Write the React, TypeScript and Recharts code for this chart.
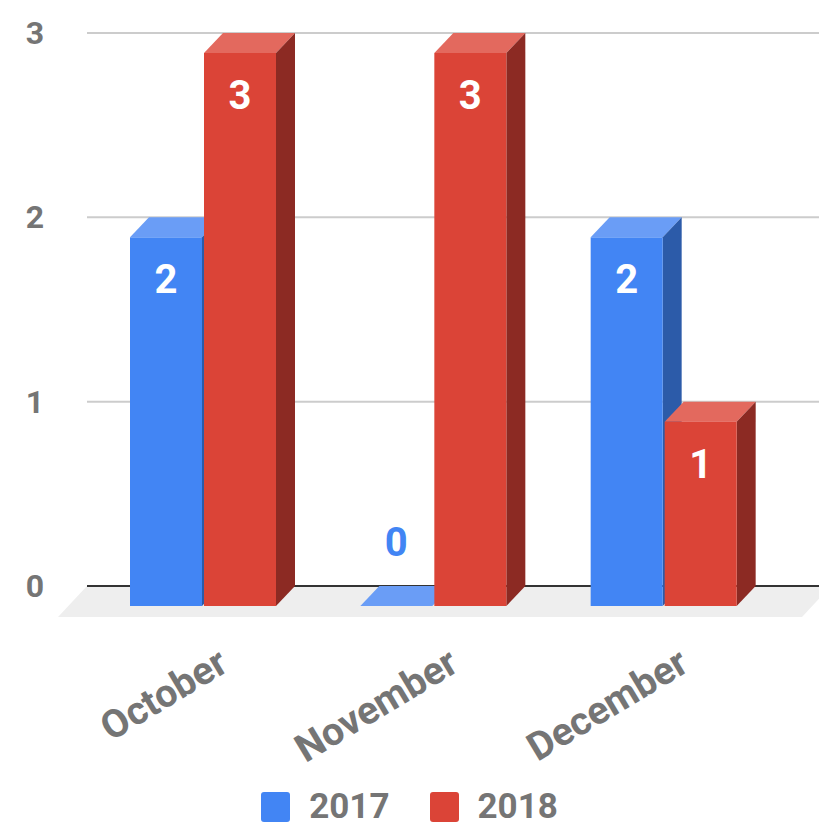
import { Bar, BarChart, CartesianGrid, LabelList, Legend, XAxis, YAxis } from "recharts";

const months = ["October", "November", "December"];
const values2017 = [2, 0, 2];
const values2018 = [3, 3, 1];
const yTicks = [0, 1, 2, 3];

const data = months.map((month, i) => ({
  month,
  "2017": values2017[i],
  "2018": values2018[i],
}));

// fake 3d: front face is pushed left/down from the back plane
const DX = 19;
const DY = 20;
const GRAY = "#757575";
const FONT = "Roboto, 'Noto Sans', sans-serif";

const shades = {
  "2017": { front: "#4285F4", top: "#6A9DF6", side: "#2C5BA9" },
  "2018": { front: "#DB4437", top: "#E3695E", side: "#8C2A23" },
};

type Shade = { front: string; top: string; side: string };

function Box3D(props: any) {
  const { x, y, width, height, shade } = props as { x: number; y: number; width: number; height: number; shade: Shade };
  const fx = x - DX;
  const fy = y + DY;
  const h = Math.max(height, 0);
  return (
    <g>
      <polygon
        points={`${fx},${fy} ${fx + width},${fy} ${x + width},${y} ${x},${y}`}
        fill={shade.top}
      />
      {h > 0 && (
        <polygon
          points={`${fx + width},${fy} ${x + width},${y} ${x + width},${y + h} ${fx + width},${fy + h}`}
          fill={shade.side}
        />
      )}
      {h > 0 && <rect x={fx} y={fy} width={width} height={h} fill={shade.front} />}
    </g>
  );
}

const barLabel = (color: string) => (p: any) => {
  const x = Number(p.x);
  const y = Number(p.y);
  const width = Number(p.width);
  const cx = x - DX + width / 2;
  const top = y + DY;
  const zero = Number(p.value) === 0;
  return (
    <text
      x={cx}
      y={zero ? top - 50 : top + 56}
      textAnchor="middle"
      fill={zero ? color : "#ffffff"}
      fontSize={40}
      fontWeight={700}
      fontFamily={FONT}
    >
      {p.value}
    </text>
  );
};

function GridLine(p: any) {
  const { x1, x2, y1, y, height, index } = p;
  const isBase = y != null && height != null ? Math.abs(y1 - (y + height)) < 1 : index === 0;
  if (!isBase) {
    return <line x1={x1} x2={x2} y1={y1} y2={y1} stroke="#CCCCCC" strokeWidth={2} />;
  }
  // floor under the bars + dark zero line
  return (
    <g>
      <polygon
        points={`${x1},${y1} ${x2 + 12},${y1} ${x2 - 17},${y1 + 31} ${x1 - 29},${y1 + 31}`}
        fill="#EEEEEE"
      />
      <line x1={x1} x2={x2} y1={y1} y2={y1} stroke="#333333" strokeWidth={2} />
    </g>
  );
}

function YTick(p: any) {
  return (
    <text
      x={p.x}
      y={p.y}
      dy={11}
      textAnchor="end"
      fill={GRAY}
      fontSize={32}
      fontWeight={700}
      fontFamily={FONT}
    >
      {p.payload.value}
    </text>
  );
}

function MonthTick(p: any) {
  const tx = p.x + 8;
  const ty = p.y + 76;
  return (
    <text
      x={tx}
      y={ty}
      transform={`rotate(-31 ${tx} ${ty})`}
      textAnchor="end"
      fill={GRAY}
      fontSize={39}
      fontWeight={700}
      fontFamily={FONT}
    >
      {p.payload.value}
    </text>
  );
}

function LegendBox({ payload }: any) {
  return (
    <div
      style={{
        display: "flex",
        justifyContent: "center",
        alignItems: "center",
        height: 60,
        paddingTop: 29,
        boxSizing: "border-box",
        fontFamily: FONT,
      }}
    >
      {(payload || []).map((entry: any, i: number) => (
        <div key={i} style={{ display: "flex", alignItems: "center", marginLeft: i ? 40 : 0 }}>
          <div style={{ width: 29, height: 30, borderRadius: 3, background: entry.color }} />
          <span style={{ marginLeft: 19, fontSize: 35, fontWeight: 700, color: GRAY, lineHeight: 1 }}>
            {entry.value}
          </span>
        </div>
      ))}
    </div>
  );
}

export default function App() {
  return (
    <div style={{ position: "absolute", left: 0, top: 0, width: 819, height: 822, background: "#fff" }}>
      <BarChart
        width={819}
        height={822}
        data={data}
        margin={{ top: 33, right: 0, bottom: 0, left: 0 }}
        barSize={72}
        barGap={2}
      >
        <CartesianGrid vertical={false} horizontal={GridLine} />
        <XAxis
          dataKey="month"
          height={176}
          axisLine={false}
          tickLine={false}
          padding={{ left: 20, right: 21 }}
          tick={MonthTick}
          interval={0}
        />
        <YAxis
          width={87}
          domain={[0, 3]}
          ticks={yTicks}
          axisLine={false}
          tickLine={false}
          tickMargin={37}
          tick={YTick}
        />
        <Legend verticalAlign="bottom" height={60} content={LegendBox} />
        <Bar
          dataKey="2017"
          fill={shades["2017"].front}
          isAnimationActive={false}
          shape={(p: any) => <Box3D {...p} shade={shades["2017"]} />}
        >
          <LabelList dataKey="2017" content={barLabel(shades["2017"].front)} />
        </Bar>
        <Bar
          dataKey="2018"
          fill={shades["2018"].front}
          isAnimationActive={false}
          shape={(p: any) => <Box3D {...p} shade={shades["2018"]} />}
        >
          <LabelList dataKey="2018" content={barLabel(shades["2018"].front)} />
        </Bar>
      </BarChart>
    </div>
  );
}
